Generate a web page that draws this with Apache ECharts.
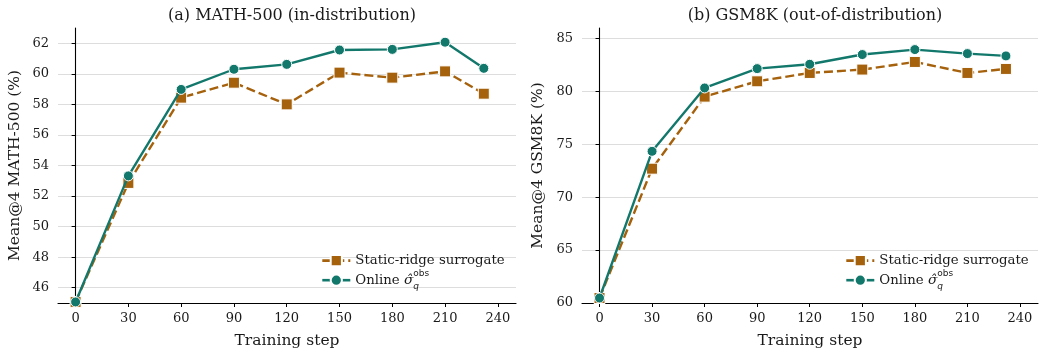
<!DOCTYPE html>
<html>
<head>
<meta charset="utf-8">
<script src="https://cdn.jsdelivr.net/npm/echarts@6/dist/echarts.min.js"></script>
<style>
html,body{margin:0;padding:0;background:#fff;}
#c{width:1039px;height:354px;}
</style>
</head>
<body>
<div id="c"></div>
<script>
var steps = [0, 30, 60, 90, 120, 150, 180, 210, 232];
var xTicks = [0, 30, 60, 90, 120, 150, 180, 210, 240];
var mathStatic = [45.07, 52.86, 58.44, 59.42, 58.0, 60.08, 59.75, 60.16, 58.70];
var mathOnline = [45.07, 53.32, 58.98, 60.30, 60.62, 61.56, 61.60, 62.07, 60.36];
var gsmStatic = [60.47, 72.70, 79.51, 80.96, 81.75, 82.07, 82.79, 81.75, 82.13];
var gsmOnline = [60.47, 74.34, 80.33, 82.16, 82.57, 83.49, 83.96, 83.58, 83.36];
var mathYTicks = [46, 48, 50, 52, 54, 56, 58, 60, 62];
var gsmYTicks = [60, 65, 70, 75, 80, 85];
var titles = ['(a) MATH-500 (in-distribution)', '(b) GSM8K (out-of-distribution)'];
var yNames = ['Mean@4 MATH-500 (%)', 'Mean@4 GSM8K (%)'];
var xName = 'Training step';
var nameStatic = 'Static-ridge surrogate';
var nameOnline = 'Online σ̂_q^obs';

var ORANGE = '#a6610c';
var TEAL = '#13786c';
var FONT = 'DejaVu Serif';
var TXT = '#1a1a1a';

function pairs(xs, ys){ return xs.map(function(x,i){ return [x, ys[i]]; }); }

function xAxis(idx){
  return {
    type:'value', gridIndex:idx, min:-10, max:250.3,
    name:xName, nameLocation:'middle', nameGap:30,
    nameTextStyle:{fontFamily:FONT, fontSize:15.5, color:TXT},
    axisLine:{show:true, lineStyle:{color:'#000', width:1.1}},
    axisTick:{show:true, length:4, lineStyle:{color:'#000'}, customValues:xTicks},
    axisLabel:{fontFamily:FONT, fontSize:13, color:TXT, margin:9, customValues:xTicks},
    splitLine:{show:false}
  };
}
function yAxis(idx, min, max, ticks){
  return {
    type:'value', gridIndex:idx, min:min, max:max,
    name:yNames[idx], nameLocation:'middle', nameGap:idx===0?35:36,
    nameTextStyle:{fontFamily:FONT, fontSize:15.5, color:TXT},
    axisLine:{show:true, lineStyle:{color:'#000', width:1.1}},
    axisTick:{show:true, length:4, lineStyle:{color:'#000'}, customValues:ticks},
    axisLabel:{fontFamily:FONT, fontSize:13, color:TXT, margin:9, customValues:ticks},
    splitLine:{show:true, lineStyle:{color:'#dddddd', width:1}}
  };
}
function series(name, idx, data, color, dashed, symbol){
  return {
    name:name, type:'line', xAxisIndex:idx, yAxisIndex:idx,
    data:pairs(steps, data),
    symbol:symbol, symbolSize: symbol==='rect'?11:10,
    showSymbol:true,
    lineStyle:{color:color, width:2.4, type: dashed?[9,4]:'solid'},
    itemStyle:{color:color, borderColor:'#fff', borderWidth:1},
    z: dashed?3:4,
    emphasis:{disabled:true},
    animation:false
  };
}
var legendRich = {
  a:{fontFamily:FONT, fontSize:13.3, color:TXT},
  s:{fontFamily:FONT, fontSize:13.8, fontStyle:'italic', color:TXT},
  q:{fontFamily:'DejaVu Sans', fontSize:9, fontStyle:'italic', color:TXT, verticalAlign:'bottom', padding:[0,0,-4,0], width:0, align:'left'},
  o:{fontFamily:'DejaVu Sans', fontSize:9, color:TXT, verticalAlign:'top', padding:[-4,0,0,0]}
};
function legendFmt(n){
  if(n===nameOnline) return '{a|Online }{s|σ̂}{q|q}{o|obs}';
  return '{a|' + n + '}';
}
function legend(left){
  return {
    data:[nameStatic, nameOnline], orient:'vertical', left:left, top:249,
    itemWidth:28, itemHeight:14, itemGap:2,
    lineStyle:{width:2.6},
    textStyle:{fontFamily:FONT, fontSize:13.3, color:TXT, rich:legendRich},
    formatter:legendFmt, selectedMode:false
  };
}

var chart = echarts.init(document.getElementById('c'), null, {renderer:'canvas'});
chart.setOption({
  backgroundColor:'#fff',
  animation:false,
  title:[
    {text:titles[0], left:287, top:3, textAlign:'center', textStyle:{fontFamily:FONT, fontSize:16, fontWeight:'normal', color:TXT}},
    {text:titles[1], left:810, top:3, textAlign:'center', textStyle:{fontFamily:FONT, fontSize:16, fontWeight:'normal', color:TXT}}
  ],
  grid:[
    {left:58, right:523, top:28, bottom:51},
    {left:582, right:1, top:28, bottom:51}
  ],
  xAxis:[xAxis(0), xAxis(1)],
  yAxis:[yAxis(0, 45, 63, mathYTicks), yAxis(1, 60, 86, gsmYTicks)],
  legend:[legend(316), legend(840)],
  series:[
    series(nameStatic, 0, mathStatic, ORANGE, true, 'rect'),
    series(nameOnline, 0, mathOnline, TEAL, false, 'circle'),
    series(nameStatic, 1, gsmStatic, ORANGE, true, 'rect'),
    series(nameOnline, 1, gsmOnline, TEAL, false, 'circle')
  ]
});
</script>
</body>
</html>
